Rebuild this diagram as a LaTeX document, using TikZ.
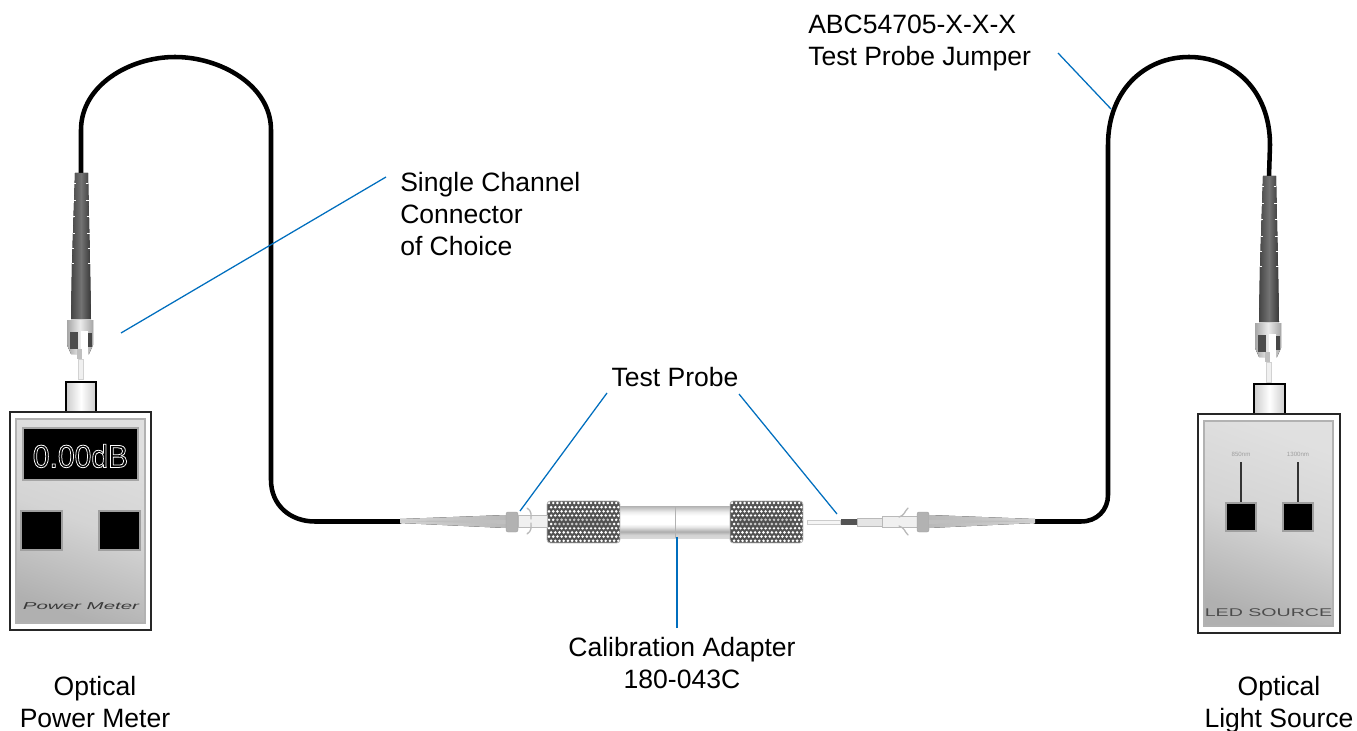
\documentclass[tikz,border=0pt]{standalone}
\usepackage{fontspec}
\setmainfont{Liberation Sans}
\definecolor{leader}{RGB}{0,110,190}
\definecolor{bootdk}{gray}{0.27}
\definecolor{bootlt}{gray}{0.45}
\newcommand{\outlinetext}[2]{\special{pdf:code q 1 Tr #1 w}#2\special{pdf:code Q}}
\pgfdeclareverticalshading{tube}{100bp}{
  color(0bp)=(gray!30); color(25bp)=(gray!30); color(30bp)=(gray!35); color(35bp)=(gray!65); color(42bp)=(gray!20); color(47bp)=(white);
  color(60bp)=(white); color(66bp)=(gray!15); color(71bp)=(gray!40); color(75bp)=(gray!60); color(100bp)=(gray!60)}
\tikzset{
  x=0.75pt,y=-0.75pt,
  label/.style={font=\fontsize{19.9}{24}\selectfont,text=black,align=center,inner sep=0},
  leaderline/.style={draw=leader,line width=0.95pt},
  cable/.style={draw=black,line width=3.4pt,line cap=round},
  panel/.style={top color=gray!24,bottom color=gray!62,middle color=gray!34,shading angle=-20,draw=gray!60,line width=1pt},
  chrome/.style={left color=gray!40,right color=gray!40,middle color=white},
  blackkey/.style={fill=black,draw=gray!75,line width=1.6pt},
  stconn/.pic={
    % strain relief boot
    \fill[left color=bootdk,right color=bootdk!80!black,middle color=bootlt]
      (-6,0) -- (7,0) -- (9,90) -- (10,146) -- (-10,146) -- (-9,90) -- cycle;
    \foreach \yy/\hw in {10/6.5,27/7,43/7.5,60/8,75/8.5,90/9}{
      \draw[white,line width=.6pt] (-\hw-.5,\yy) -- (-\hw+1.8,\yy) (\hw-1.8,\yy) -- (\hw+.5,\yy);
    }
    % coupling nut
    \fill[left color=gray!70,right color=gray!70,middle color=gray!15]
      (-14,147) -- (12,147) -- (12,172) -- (8,181) -- (-10,181) -- (-14,172) -- cycle;
    \fill[gray!60!black] (-11,159) rectangle (-3,176);
    \fill[white] (0,158) rectangle (7,183);
    \fill[gray!55!black] (7,160) rectangle (11,174);
    \fill[gray!50] (-4,176) rectangle (1,186);
    % ferrule
    \fill[gray!12,draw=gray!35,line width=.3pt] (-2.5,186) rectangle (2.5,206);
  },
  knurl/.pic={
    \begin{scope}
      \clip[rounded corners=2.5pt] (0,0) rectangle (73,42);
      \fill[gray!65!black] (0,0) rectangle (73,42);
      \foreach \col in {0,...,17}{
        \foreach \row in {0,...,9}{
          \fill[white] ({2+\col*4.2+mod(\row,2)*2.1},{2+\row*4.2}) circle[radius=1.45];
        }
      }
      \fill[gray!60!black,opacity=.3] (8,15) rectangle (64,27);
    \end{scope}
    \draw[gray!55,line width=.6pt,rounded corners=2.5pt] (0,0) rectangle (73,42);
  },
}
\begin{document}
\begin{tikzpicture}
\useasboundingbox (0,0) rectangle (1357,731);

% ---- anchors for cables
\coordinate (lboot) at (81,173);
\coordinate (rboot) at (1269,176);
\coordinate (lprobe) at (400,521.5);
\coordinate (rprobe) at (1035,521.5);

% ---- cables
\draw[cable] (lboot) -- (81,130) .. controls (81,85) and (130,57) .. (175,57)
  .. controls (220,57) and (271,85) .. (271,130)
  -- (271,480) .. controls (271,505) and (290,521.5) .. (315,521.5) -- (lprobe);
\draw[cable] (rprobe) -- (1081,521.5) .. controls (1097,521.5) and (1108,510) .. (1108,495)
  -- (1108,145) .. controls (1108,90) and (1145,57) .. (1189,57)
  .. controls (1233,57) and (1270,90) .. (1270,145) -- (rboot);

% ---- ST connectors on the instruments
\pic at (lboot) {stconn};
\pic at (rboot) {stconn};

% ---- power meter
\fill[chrome,draw=black,line width=1pt] (66,382) rectangle (96,412);
\fill[white,draw=black!85,line width=1.4pt] (10,412) rectangle (151,630);
\shade[panel] (16,419) rectangle (145,623);
\fill[fill=black,draw=gray!70,line width=1.8pt] (23,428) rectangle (138,480);
\node[inner sep=0,text=white,font=\fontsize{24}{28}\selectfont,xscale=.94] (readout) at (80.5,456) {\outlinetext{0.6}{0.00dB}};
\draw[blackkey] (21,511) rectangle (62,550);
\draw[blackkey] (99,511) rectangle (140,550);
\node[inner sep=0,text=gray!45!black,font=\fontsize{7.5}{9}\selectfont\itshape,xscale=2.05] (pmbrand) at (81,606) {Power Meter};

% ---- light source
\fill[chrome,draw=black,line width=1pt] (1254,384) rectangle (1285,414);
\fill[white,draw=black!85,line width=1.4pt] (1198,414) rectangle (1340,633);
\shade[panel] (1204,421) rectangle (1333,626);
\draw[black!80,line width=1.2pt] (1241,462) -- (1241,502) (1298,462) -- (1298,502);
\draw[blackkey] (1226,503) rectangle (1256,531);
\draw[blackkey] (1283,503) rectangle (1313,531);
\node[inner sep=0,text=gray!75,font=\fontsize{4.6}{5}\selectfont] (nm850) at (1241,454) {850nm};
\node[inner sep=0,text=gray!75,font=\fontsize{4.6}{5}\selectfont] (nm1300) at (1298,454) {1300nm};
\node[inner sep=0,text=black!70,font=\fontsize{8.4}{10}\selectfont,xscale=1.75] (ledbrand) at (1268.5,613) {LED SOURCE};

% ---- calibration adapter
\shade[shading=tube] (620,506) rectangle (731,538);
\draw[gray!60,line width=.5pt] (675,506) -- (675,538);
\pic at (547,501) {knurl};
\pic at (730,501) {knurl};

% ---- left test probe
\fill[left color=gray!35,right color=gray!55] (lprobe) -- (400,519) -- (506,515) -- (506,528) -- (400,523) -- cycle;
\fill[gray!50] (400,521) -- (506,520) -- (506,524) -- cycle;
\fill[gray!60,draw=gray!75,line width=.3pt,rounded corners=1.5pt] (506,512) rectangle (518,532);
\fill[gray!12,draw=gray!55,line width=.3pt] (518,515) rectangle (547,527);
\draw[gray!55,line width=1pt,line cap=round] (527,508) .. controls (532,511) and (531,515) .. (531,519)
  (527,534) .. controls (532,531) and (531,527) .. (531,523);

% ---- right test probe
\fill[gray!8,draw=gray!40,line width=.3pt] (807,520) rectangle (840,524);
\fill[gray!65!black] (841,519) rectangle (857,525);
\fill[gray!20,draw=gray!55,line width=.3pt] (857,518) rectangle (882,526);
\fill[gray!12,draw=gray!55,line width=.3pt] (882,516) rectangle (917,527);
\draw[gray!55,line width=1pt,line cap=round] (908,508) .. controls (904,512) and (905,515) .. (899,517)
  (908,535) .. controls (904,531) and (905,528) .. (899,526);
\fill[gray!60,draw=gray!75,line width=.3pt,rounded corners=1.5pt] (917,512) rectangle (929,532);
\fill[left color=gray!55,right color=gray!35] (929,515) -- (1035,519) -- (1035,523) -- (929,528) -- cycle;
\fill[gray!50] (1035,521) -- (929,520) -- (929,524) -- cycle;

% ---- labels
\node[label,align=left,anchor=west] (single) at (400,214) {Single Channel\\Connector\\of Choice};
\node[label,align=left,anchor=west] (abc) at (808,43) {ABC54705-X-X-X\\Test Probe Jumper};
\node[label] (probe) at (675,377) {Test Probe};
\node[label] (calib) at (682,663) {Calibration Adapter\\180-043C};
\node[label] (meter) at (95,702) {Optical\\Power Meter};
\node[label] (source) at (1279,705) {Optical\\Light Source};

% ---- leaders
\coordinate (lstart) at (386,177);
\coordinate (lend) at (121,333);
\coordinate (pl1) at (607,393);
\coordinate (pl2) at (520,511);
\coordinate (pr1) at (739,394);
\coordinate (pr2) at (837,514);
\coordinate (ca1) at (677,628);
\coordinate (ca2) at (677,537);
\coordinate (jm1) at (1058,53);
\coordinate (jm2) at (1111,109);
\draw[leaderline] (lstart) -- (lend);
\draw[leaderline] (pl1) -- (pl2);
\draw[leaderline] (pr1) -- (pr2);
\draw[leaderline] (ca1) -- (ca2);
\draw[leaderline] (jm1) -- (jm2);
\end{tikzpicture}
\end{document}
